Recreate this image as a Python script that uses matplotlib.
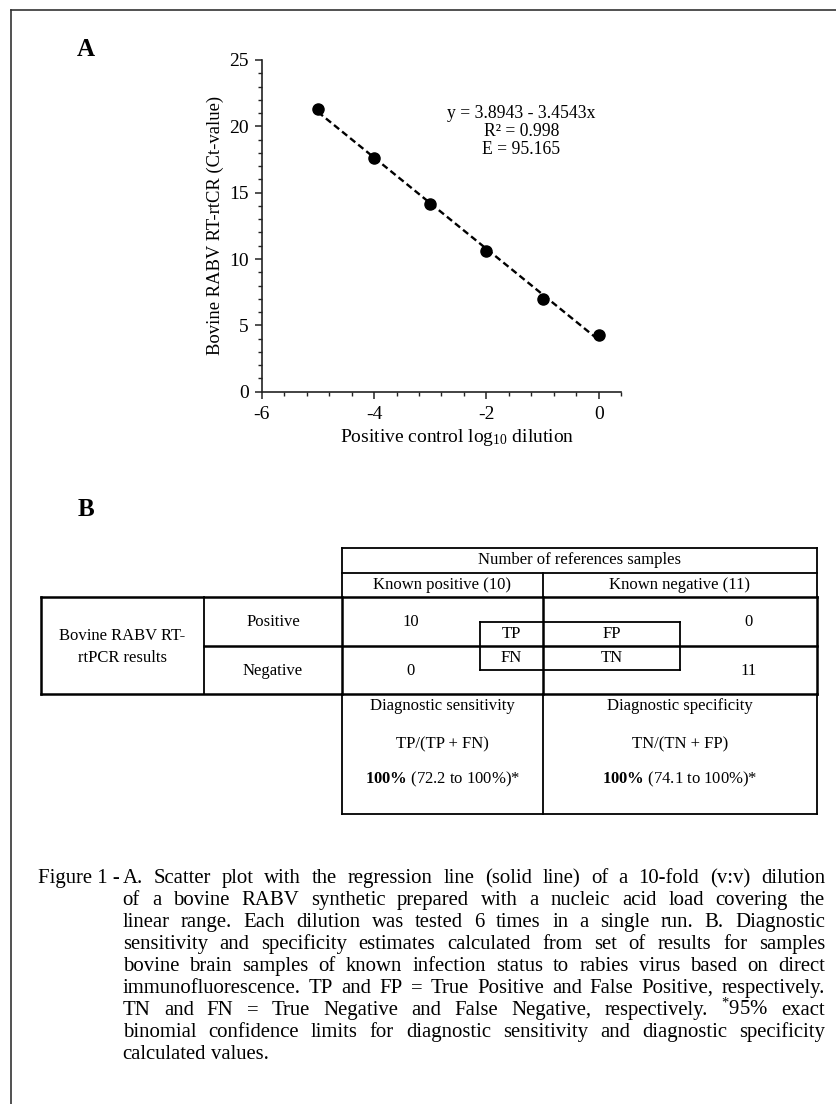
import numpy as np
import matplotlib
matplotlib.use('Agg')
import matplotlib.pyplot as plt
from matplotlib.ticker import MultipleLocator

plt.rcParams['font.family'] = ['Liberation Serif', 'DejaVu Serif']
plt.rcParams['mathtext.fontset'] = 'custom'
plt.rcParams['mathtext.rm'] = 'Liberation Serif'
plt.rcParams['mathtext.it'] = 'Liberation Serif:italic'
plt.rcParams['mathtext.bf'] = 'Liberation Serif:bold'
plt.rcParams['axes.unicode_minus'] = False

# Dados do painel A (curva padrao)
diluicao = [-5, -4, -3, -2, -1, 0]
ct = [21.3, 17.6, 14.15, 10.6, 7.0, 4.3]
equacao = ['y = 3.8943 - 3.4543x', 'R² = 0.998', 'E = 95.165']
xticks = [-6, -4, -2, 0]
yticks = [0, 5, 10, 15, 20, 25]

# Dados do painel B (tabela 2x2)
cabecalho = 'Number of references samples'
colunas = ['Known positive (10)', 'Known negative (11)']
linhas = ['Positive', 'Negative']
contagens = [[10, 0], [0, 11]]
rotulos = [['TP', 'FP'], ['FN', 'TN']]
metricas = ['Diagnostic sensitivity', 'Diagnostic specificity']
formulas = ['TP/(TP + FN)', 'TN/(TN + FP)']
valores = ['100%', '100%']
intervalos = ['(72.2 to 100%)*', '(74.1 to 100%)*']

# Legenda da figura
legenda = [
    'A. Scatter plot with the regression line (solid line) of a 10-fold (v:v) dilution',
    'of a bovine RABV synthetic prepared with a nucleic acid load covering the',
    'linear range. Each dilution was tested 6 times in a single run. B. Diagnostic',
    'sensitivity and specificity estimates calculated from set of results for samples',
    'bovine brain samples of known infection status to rabies virus based on direct',
    'immunofluorescence. TP and FP = True Positive and False Positive, respectively.',
    'TN and FN = True Negative and False Negative, respectively. $^{*}$95% exact',
    'binomial confidence limits for diagnostic sensitivity and diagnostic specificity',
    'calculated values.',
]

W, H = 837, 1104
fig = plt.figure(figsize=(W / 100, H / 100), dpi=100)

# eixo "pagina" em pixels, para tabela e textos
page = fig.add_axes([0, 0, 1, 1])
page.set_xlim(0, W)
page.set_ylim(H, 0)
page.axis('off')

# moldura (so topo e esquerda aparecem)
page.plot([10.7, W], [10, 10], color='#333333', lw=1.2)
page.plot([10.7, 10.7], [10, H], color='#333333', lw=1.2)

# ---- Painel A ----
x0, x1, y0, y1 = 261.7, 621.2, 60, 391.7
ax = fig.add_axes([x0 / W, 1 - y1 / H, (x1 - x0) / W, (y1 - y0) / H])
ax.patch.set_visible(False)

coef = np.polyfit(diluicao, ct, 1)
xs = np.array([min(diluicao), max(diluicao)])
ax.plot(xs, np.polyval(coef, xs), color='black', lw=1.7, ls=(0, (2.8, 1.6)), zorder=2)
ax.plot(diluicao, ct, 'o', color='black', ms=8, zorder=3)

ax.set_xlim(-6, 0.4)
ax.set_ylim(0, 25)
ax.set_xticks(xticks)
ax.set_yticks(yticks)
ax.xaxis.set_minor_locator(MultipleLocator(0.4))
ax.yaxis.set_minor_locator(MultipleLocator(1))
ax.tick_params(which='major', direction='out', length=5, width=1.1, labelsize=14, color='#222222')
ax.tick_params(which='minor', direction='out', length=2.6, width=1.0, color='#222222')
ax.tick_params(axis='y', which='major', pad=4.5)
ax.tick_params(axis='x', which='major', pad=5.5)
for s in ['top', 'right']:
    ax.spines[s].set_visible(False)
for s in ['left', 'bottom']:
    ax.spines[s].set_linewidth(1.2)
    ax.spines[s].set_color('#222222')

ax.set_ylabel('Bovine RABV RT-rtCR (Ct-value)', fontsize=13.4)
ax.yaxis.set_label_coords(-0.105, 0.5)
ax.set_xlabel('Positive control log$_{10}$ dilution', fontsize=14)
ax.xaxis.set_label_coords(0.543, -0.105)

for i, linha in enumerate(equacao):
    ax.text(-1.374, 21.0 - 1.36 * i, linha, fontsize=12.7, ha='center', va='center')

page.text(86, 50, 'A', fontsize=18, fontweight='bold', ha='center', va='center')
page.text(86, 510, 'B', fontsize=18, fontweight='bold', ha='center', va='center')

# ---- Painel B: tabela ----
xa, xb, xc, xd, xe = 40.7, 204.3, 341.7, 542.7, 816.7
ya, yb, yc, yd, ye, yf = 548.3, 572.7, 596.7, 646, 694, 814.3
bx0, bx1, by0, by1 = 480, 680, 621.7, 670

def seg(xx, yy, lw=1.3):
    page.plot(xx, yy, color='black', lw=lw, solid_capstyle='projecting')

# cabecalho
seg([xc, xe], [ya, ya])
seg([xc, xe], [yb, yb])
seg([xc, xc], [ya, yc])
seg([xe, xe], [ya, yc])
seg([xd, xd], [yb, yc])
# corpo
seg([xa, xe], [yc, yc], 1.8)
seg([xa, xe], [ye, ye], 1.8)
seg([xa, xa], [yc, ye], 1.8)
seg([xe, xe], [yc, ye], 1.8)
seg([xb, xb], [yc, ye])
seg([xc, xc], [yc, ye], 1.8)
seg([xd, xd], [yc, ye], 1.8)
seg([xb, xe], [yd, yd], 1.8)
# caixa TP/FP/FN/TN
seg([bx0, bx1], [by0, by0])
seg([bx0, bx1], [by1, by1])
seg([bx0, bx0], [by0, by1])
seg([bx1, bx1], [by0, by1])
# parte inferior
seg([xc, xc], [ye, yf])
seg([xd, xd], [ye, yf])
seg([xe, xe], [ye, yf])
seg([xc, xe], [yf, yf])

fs = 12
centros = [(xc + xd) / 2, (xd + xe) / 2]
page.text((xc + xe) / 2, (ya + yb) / 2, cabecalho, fontsize=fs, ha='center', va='center')
for j in range(2):
    page.text(centros[j], (yb + yc) / 2, colunas[j], fontsize=fs, ha='center', va='center')

page.text((xa + xb) / 2, 636, 'Bovine RABV RT-', fontsize=fs, ha='center', va='center')
page.text((xa + xb) / 2, 658, 'rtPCR results', fontsize=fs, ha='center', va='center')
ylin = [621.7, 670.7]
xcont = [410.7, 748.3]
for i in range(2):
    page.text((xb + xc) / 2, ylin[i], linhas[i], fontsize=fs, ha='center', va='center')
    for j in range(2):
        page.text(xcont[j], ylin[i], str(contagens[i][j]), fontsize=fs, ha='center', va='center')
ylab = [633.5, 657.5]
xlab = [(bx0 + xd) / 2, (xd + bx1) / 2]
for i in range(2):
    for j in range(2):
        page.text(xlab[j], ylab[i], rotulos[i][j], fontsize=fs, ha='center', va='center')

for j in range(2):
    page.text(centros[j], 706, metricas[j], fontsize=fs, ha='center', va='center')
    page.text(centros[j], 744, formulas[j], fontsize=fs, ha='center', va='center')
    page.text(centros[j], 779, r'$\mathbf{' + valores[j].replace('%', r'\%') + '}$ ' + intervalos[j],
              fontsize=fs, ha='center', va='center')

# ---- Legenda justificada ----
fig.canvas.draw()
r = fig.canvas.get_renderer()

def largura(txt, size):
    t = page.text(0, 0, txt, fontsize=size)
    w = t.get_window_extent(r).width
    t.remove()
    return w

esq, dire = 122.7, 825
base = 13
espaco = largura('x x', base) - 2 * largura('x', base)
ref = legenda[5].split(' ')
natural = sum(largura(p, base) for p in ref) + espaco * (len(ref) - 1)
fsl = base * (dire - esq) / natural * 0.96
espaco = largura('x x', fsl) - 2 * largura('x', fsl)

y_base = 883
passo = 22
page.text(38.3, y_base, 'Figure 1 -', fontsize=fsl, ha='left', va='baseline')
for i, linha in enumerate(legenda):
    palavras = linha.split(' ')
    ws = [largura(p, fsl) for p in palavras]
    if i < len(legenda) - 1:
        gap = (dire - esq - sum(ws)) / (len(palavras) - 1)
    else:
        gap = espaco
    x = esq
    for p, w in zip(palavras, ws):
        page.text(x, y_base + passo * i, p, fontsize=fsl, ha='left', va='baseline')
        x += w + gap

fig.savefig('out.png', dpi=100)
